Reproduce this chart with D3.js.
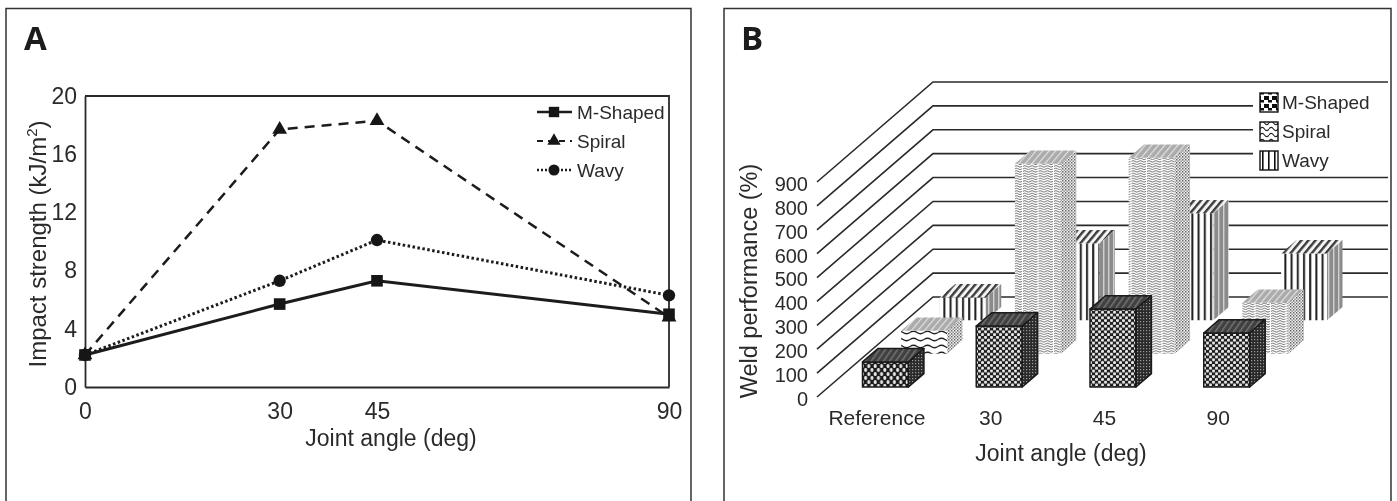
<!DOCTYPE html>
<html><head><meta charset="utf-8">
<script src="https://cdn.jsdelivr.net/npm/d3@7/dist/d3.min.js"></script>
<style>html,body{margin:0;background:#fff}svg{display:block}text{font-family:"Liberation Sans",Arial,sans-serif;fill:#2b2b2b}.lab{font-family:"Open Sans",sans-serif;font-weight:700;font-size:33px;fill:#1a1a1a}</style>
</head><body><svg id="c" width="1397" height="501"></svg>
<script>
const angles = [0, 30, 45, 90];
const seriesNames = ["M-Shaped", "Spiral", "Wavy"];
const impactMShaped = [2.2, 5.7, 7.3, 5.0];
const impactSpiral = [2.2, 17.7, 18.3, 4.8];
const impactWavy = [2.2, 7.3, 10.1, 6.3];
const impactTicks = [0, 4, 8, 12, 16, 20];
const weldCategories = ["Reference", "30", "45", "90"];
const weldMShaped = [105, 255, 326, 226];
const weldSpiral = [96, 795, 820, 213];
const weldWavy = [96, 322, 448, 280];
const weldTicks = [0, 100, 200, 300, 400, 500, 600, 700, 800, 900];

const svg = d3.select("#c");
const ink = "#2b2b2b";
const defs = svg.append("defs");
defs.append("filter").attr("id", "soft").attr("filterUnits", "userSpaceOnUse")
  .attr("x", 0).attr("y", 0).attr("width", 1397).attr("height", 501)
  .append("feGaussianBlur").attr("stdDeviation", .45);
const root = svg.append("g").attr("filter", "url(#soft)");
root.append("rect").attr("width", 1397).attr("height", 501).attr("fill", "#fff");
// panel frames (open at the bottom)
[[6, 691], [724, 1391]].forEach(([l, r]) => root.append("path")
  .attr("d", `M${l} 501V8.5H${r}V501`).attr("fill", "none").attr("stroke", "#333").attr("stroke-width", 1.5));
root.append("text").attr("class", "lab").attr("x", 24).attr("y", 50).text("A");
root.append("text").attr("class", "lab").attr("x", 741).attr("y", 50).text("B");

/* ---------- Panel A ---------- */
const xA = d3.scaleLinear().domain([0, 90]).range([85, 669]);
const yA = d3.scaleLinear().domain([0, 20]).range([387, 96]);
const gA = root.append("g");
const axX = gA.append("g").attr("transform", "translate(0,387)").call(d3.axisBottom(xA).tickValues(angles).tickSize(0).tickPadding(16));
const axY = gA.append("g").attr("transform", "translate(85,0)").call(d3.axisLeft(yA).tickValues(impactTicks).tickSize(0).tickPadding(8));
[axX, axY].forEach(a => { a.selectAll("text").style("font-family", '"Liberation Sans"').style("font-size", "23px").attr("fill", ink);
  a.select(".domain").attr("stroke", ink).attr("stroke-width", 1.8); });
gA.append("path").attr("d", `M${xA(0)} ${yA(20)}H${xA(90)}V${yA(0)}`).attr("fill", "none").attr("stroke", ink).attr("stroke-width", 1.8);
gA.append("text").attr("x", 391).attr("y", 446).attr("text-anchor", "middle").attr("font-size", 23).text("Joint angle (deg)");
const yt = gA.append("text").attr("transform", "translate(46,244) rotate(-90)").attr("text-anchor", "middle").attr("font-size", 24);
yt.append("tspan").text("Impact strength (kJ/m");
yt.append("tspan").attr("font-size", 15).attr("dy", -9).text("2");
yt.append("tspan").attr("dy", 9).text(")");

const styleA = [
  {v: impactMShaped, dash: null, w: 3, sym: d3.symbolSquare, size: 135},
  {v: impactSpiral, dash: "10 7", w: 2.5, sym: d3.symbolTriangle, size: 95},
  {v: impactWavy, dash: "2.5 2.5", w: 3, sym: d3.symbolCircle, size: 120}
];
const lineA = d3.line().x((d, i) => xA(angles[i])).y(d => yA(d));
[styleA[2], styleA[1], styleA[0]].forEach(s => {
  gA.append("path").attr("d", lineA(s.v)).attr("fill", "none").attr("stroke", "#1c1c1c").attr("stroke-width", s.w).attr("stroke-dasharray", s.dash);
  gA.selectAll(null).data(s.v).join("path").attr("d", d3.symbol(s.sym, s.size))
    .attr("transform", (d, i) => `translate(${xA(angles[i])},${yA(d)})`).attr("fill", "#161616");
});
const legA = d3.scaleBand().domain(seriesNames).range([97.5, 184.5]);
seriesNames.forEach((n, i) => {
  const y = legA(n) + legA.bandwidth() / 2, s = styleA[i];
  gA.append("path").attr("d", `M537 ${y}H572`).attr("stroke", "#1c1c1c").attr("stroke-width", s.w * 0.8).attr("stroke-dasharray", s.dash ? (i === 1 ? "6 5" : "2 2") : null);
  gA.append("path").attr("d", d3.symbol(s.sym, s.size * .8)).attr("transform", `translate(554,${y})`).attr("fill", "#161616");
  gA.append("text").attr("x", 577).attr("y", y + 6.5).attr("font-size", 19).text(n);
});

/* ---------- Panel B ---------- */
const depthX = 116, depthY = 100;
const xB = d3.scaleBand().domain(weldCategories).range([817, 1272]).paddingInner(.596).paddingOuter(.298);
const zB = d3.scaleBand().domain(seriesNames).range([0, 1]).paddingInner(.6).paddingOuter(.3);
const yB = d3.scaleLinear().domain([0, 900]).range([397, 182]);
const gB = root.append("g");
function pat(id, w, h, bg, draw, tf) {
  const p = defs.append("pattern").attr("id", id).attr("patternUnits", "userSpaceOnUse").attr("width", w).attr("height", h);
  if (tf) p.attr("patternTransform", tf);
  p.append("rect").attr("width", w).attr("height", h).attr("fill", bg);
  draw(p);
}
const wave = (p, y, col, sw, x0 = 0, n = 2, a = 1.5, step = 3) => {
  let d = `M${x0} ${y}`;
  for (let i = 0; i < n; i++) d += `q${step / 2} ${-a * 1.6} ${step} 0q${step / 2} ${a * 1.6} ${step} 0`;
  p.append("path").attr("d", d).attr("fill", "none").attr("stroke", col).attr("stroke-width", sw);
};
const dots = (p, w, h, rx, ry) => {
  p.append("ellipse").attr("cx", w / 4).attr("cy", h / 4).attr("rx", rx).attr("ry", ry).attr("fill", "#e8e8e8");
  p.append("ellipse").attr("cx", w * 3 / 4).attr("cy", h * 3 / 4).attr("rx", rx).attr("ry", ry).attr("fill", "#e8e8e8");
};
pat("mFront", 6, 5.6, "#1e1e1e", p => dots(p, 6, 5.6, 1.55, 1.55));
pat("mFront0", 6.4, 8, "#1e1e1e", p => dots(p, 6.4, 8, 1.5, 2.1));
pat("mTop", 5, 5, "#3f3f3f", p => p.append("rect").attr("width", 1.5).attr("height", 5).attr("fill", "#737373"), "rotate(35)");
pat("mSide", 3, 3, "#2c2c2c", p => p.append("rect").attr("width", 1.2).attr("height", 1.2).attr("fill", "#9a9a9a"));
pat("sFront", 15.5, 5, "#fff", p => {
  wave(p, 1.4, "#555", .85, 0, 2, 1, 3.6);
  wave(p, 3.9, "#666", .85, 0, 2, 1, 3.6);
});
pat("sFront0", 14, 7, "#fff", p => wave(p, 3.5, "#222", 1.3, 0, 1, 1.6, 7));
pat("sTop", 5, 5, "#ababab", p => p.append("rect").attr("width", 1.2).attr("height", 5).attr("fill", "#e2e2e2"), "rotate(40)");
pat("sSide", 3, 3, "#eee", p => {
  p.append("rect").attr("width", 1.4).attr("height", 1.5).attr("fill", "#666");
  p.append("rect").attr("x", 1.5).attr("y", 1.5).attr("width", 1.3).attr("height", 1.5).attr("fill", "#888");
});
pat("wFront", 6.2, 6, "#fff", p => p.append("rect").attr("x", 1).attr("width", 2).attr("height", 6).attr("fill", "#1d1d1d"));
pat("wTop", 5.4, 5.4, "#f4f4f4", p => p.append("rect").attr("width", 2.4).attr("height", 5.4).attr("fill", "#3b3b3b"), "rotate(40)");
pat("wSide", 5, 5, "#8b8b8b", p => p.append("rect").attr("x", 3.3).attr("width", 1).attr("height", 5).attr("fill", "#eee"));
pat("lgM", 8, 8, "#fff", p => {
  p.append("rect").attr("width", 5).attr("height", 4).attr("fill", "#111");
  p.append("rect").attr("x", 4).attr("y", 4).attr("width", 4).attr("height", 2.5).attr("fill", "#111");
});
pat("lgS", 9, 6, "#fff", p => wave(p, 3, "#222", 1.1, 0, 1, 2, 4.5));
pat("lgW", 6, 6, "#fff", p => p.append("rect").attr("x", 2).attr("width", 1.6).attr("height", 6).attr("fill", "#111"));

const proj = (x, d, v) => [x + d * depthX, yB(v) - d * depthY];
// gridlines: front edge of the floor/side wall, then back wall
weldTicks.forEach(t => {
  const a = proj(817, 0, t), b = proj(817, 1, t), c = proj(1272, 1, t);
  gB.append("path").attr("d", d3.line()([a, b, c])).attr("fill", "none").attr("stroke", "#2a2a2a").attr("stroke-width", 1.6);
});
gB.append("rect").attr("x", 1253).attr("y", 88).attr("width", 137).attr("height", 83).attr("fill", "#fff");

const valuesB = {"M-Shaped": weldMShaped, "Spiral": weldSpiral, "Wavy": weldWavy};
const faceKey = {"M-Shaped": "m", "Spiral": "s", "Wavy": "w"};
[...seriesNames].reverse().forEach(name => {
  const k = faceKey[name], outline = name === "M-Shaped";
  weldCategories.forEach((cat, i) => {
    const x0 = xB(cat), x1 = x0 + xB.bandwidth(), d0 = zB(name), d1 = d0 + zB.bandwidth(), v = valuesB[name][i];
    const front = (i === 0 && k !== "w") ? "Front0" : "Front";
    const faces = [
      [front, [proj(x0, d0, 0), proj(x1, d0, 0), proj(x1, d0, v), proj(x0, d0, v)]],
      ["Top", [proj(x0, d0, v), proj(x1, d0, v), proj(x1, d1, v), proj(x0, d1, v)]],
      ["Side", [proj(x1, d0, 0), proj(x1, d1, 0), proj(x1, d1, v), proj(x1, d0, v)]]
    ];
    faces.forEach(([f, pts]) => gB.append("path").attr("d", d3.line()(pts) + "Z")
      .attr("fill", `url(#${k}${f})`)
      .attr("stroke", outline ? "#1a1a1a" : "none").attr("stroke-width", outline ? 1.5 : 0).attr("stroke-linejoin", "round"));
  });
});
const axB = gB.append("g").attr("transform", "translate(817,2)").call(d3.axisLeft(yB).tickValues(weldTicks).tickSize(0).tickPadding(9));
axB.select(".domain").remove();
const axC = gB.append("g").attr("transform", "translate(3,401)").call(d3.axisBottom(xB).tickSize(0).tickPadding(9));
axC.select(".domain").remove();
axB.selectAll("text").style("font-family", '"Liberation Sans"').style("font-size", "20px").attr("fill", ink);
axC.selectAll("text").style("font-family", '"Liberation Sans"').style("font-size", "21px").attr("fill", ink);
gB.append("text").attr("x", 1061).attr("y", 461).attr("text-anchor", "middle").attr("font-size", 23).text("Joint angle (deg)");
gB.append("text").attr("transform", "translate(757,281) rotate(-90)").attr("text-anchor", "middle").attr("font-size", 23.5).text("Weld performance (%)");
const legB = d3.scaleBand().domain(seriesNames).range([88, 175]);
seriesNames.forEach(n => {
  const y = legB(n) + legB.bandwidth() / 2;
  gB.append("rect").attr("x", 1260).attr("y", y - 9.5).attr("width", 18).attr("height", 19)
    .attr("fill", `url(#lg${faceKey[n].toUpperCase()})`).attr("stroke", "#111").attr("stroke-width", 1.4);
  gB.append("text").attr("x", 1282).attr("y", y + 6.5).attr("font-size", 19).text(n);
});
</script></body></html>
